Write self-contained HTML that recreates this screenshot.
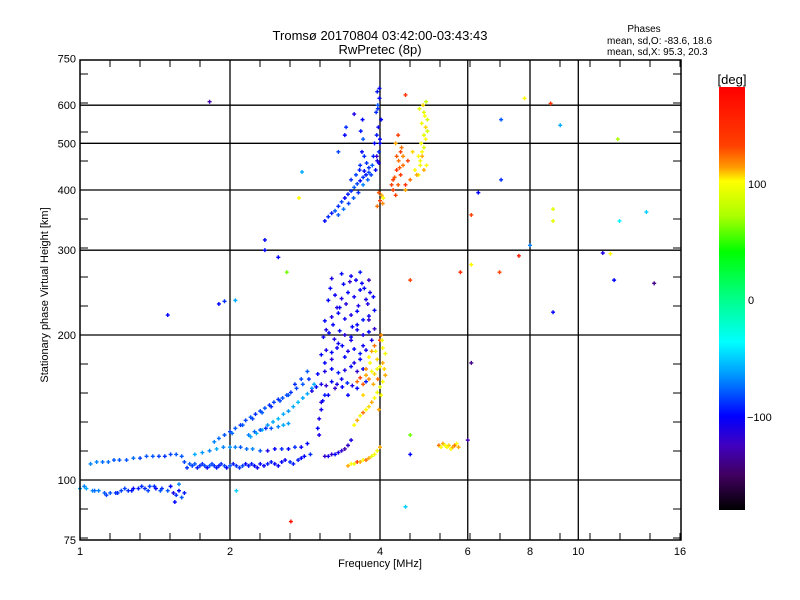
<!DOCTYPE html>
<html><head><meta charset="utf-8"><style>
html,body{margin:0;padding:0;background:#fff}
svg{display:block;font-family:"Liberation Sans",sans-serif}
</style></head><body>
<svg id="chart" width="800" height="600" viewBox="0 0 800 600">
<defs>
<linearGradient id="cb" x1="0" y1="1" x2="0" y2="0">
<stop offset="0" stop-color="#000000"/>
<stop offset="0.0833" stop-color="#400060"/>
<stop offset="0.1528" stop-color="#4000c0"/>
<stop offset="0.2222" stop-color="#0000ff"/>
<stop offset="0.3194" stop-color="#0099ff"/>
<stop offset="0.3972" stop-color="#00ffff"/>
<stop offset="0.5" stop-color="#00ff88"/>
<stop offset="0.6111" stop-color="#00ff00"/>
<stop offset="0.6944" stop-color="#aaff00"/>
<stop offset="0.7778" stop-color="#ffff00"/>
<stop offset="0.8111" stop-color="#ff9900"/>
<stop offset="0.8611" stop-color="#ff4000"/>
<stop offset="1" stop-color="#ff0000"/>
</linearGradient>
</defs>
<text x="380" y="40" font-size="13" text-anchor="middle">Tromsø 20170804 03:42:00-03:43:43</text>
<text x="380" y="54" font-size="13" text-anchor="middle">RwPretec (8p)</text>
<g font-size="10">
<text x="644" y="32" text-anchor="middle">Phases</text>
<text x="607" y="44">mean, sd,O: -83.6, 18.6</text>
<text x="607" y="55">mean, sd,X:  95.3, 20.3</text>
</g>
<g id="grid"></g>
<g id="points"></g>
<rect x="80" y="60" width="601" height="480" fill="none" stroke="#000" stroke-width="1.5"/>
<g id="axes" font-size="11"></g>
<text x="380" y="567" font-size="11" text-anchor="middle">Frequency [MHz]</text>
<text x="48" y="295" font-size="11" text-anchor="middle" transform="rotate(-90 48 295)">Stationary phase Virtual Height [km]</text>
<g>
<rect x="719" y="87" width="26" height="423" fill="url(#cb)"/>
<text x="732" y="84" font-size="13" text-anchor="middle">[deg]</text>
<text x="748" y="188" font-size="11">100</text>
<text x="748" y="304" font-size="11">0</text>
<text x="747" y="421" font-size="11">−100</text>
</g>
</svg>
<script>
const xTicks=[1,2,4,6,8,10,16];
const xGrid=[2,4,6,8,10];
const yTicks=[75,100,200,300,400,500,600,750];
const yGrid=[100,200,300,400,500,600];

const freqMHz=[
1.00,1.03,1.06,1.09,1.12,1.15,1.18,1.21,1.25,1.28,1.31,1.35,1.38,1.42,1.46,1.50,
1.52,1.54,1.56,1.58,1.60,1.62,1.55,1.58,
1.05,1.08,1.11,1.14,1.17,1.20,1.24,1.28,1.32,1.36,1.40,1.44,1.48,1.52,1.56,1.60,
1.62,1.66,1.70,1.74,1.78,1.82,1.86,1.90,1.95,2.00,2.06,2.12,2.18,2.24,2.30,2.38,2.46,2.54,2.64,2.74,2.82,2.90,
1.70,1.76,1.82,1.88,1.94,2.00,2.05,2.10,2.16,2.22,2.30,2.38,2.46,2.54,2.62,2.70,2.78,2.86,
1.86,1.90,1.95,2.00,2.05,2.10,2.15,2.20,2.25,2.30,2.35,2.40,2.45,2.50,2.55,2.60,2.65,2.72,2.80,2.88,
2.20,2.26,2.32,2.38,2.44,2.50,2.56,2.62,2.68,2.74,2.80,2.86,2.92,2.95,
2.18,2.24,2.30,2.36,2.42,2.50,2.56,2.62,
3.10,3.15,3.20,3.25,3.30,3.35,3.40,3.45,3.50,
3.45,3.50,3.55,3.60,3.65,3.70,3.75,3.80,3.85,3.90,3.95,4.00,
2.92,2.98,3.05,3.12,3.20,3.28,3.36,3.44,3.52,3.60,
3.00,3.10,3.20,3.30,3.40,3.50,3.60,3.70,
3.05,3.12,3.20,3.28,3.36,3.45,3.55,3.65,3.75,
3.08,3.16,3.24,3.32,3.40,3.50,3.60,3.70,3.80,3.90,
3.10,3.20,3.30,3.40,3.50,3.60,3.70,3.80,
3.15,3.25,3.35,3.45,3.55,3.65,3.75,
3.20,3.35,3.50,3.65,3.80,
3.00,3.02,3.05,3.07,3.10,3.02,
3.55,3.60,3.65,3.70,3.75,3.80,3.85,3.90,3.95,4.00,4.05,4.10,
3.60,3.65,3.70,3.75,3.80,3.85,3.90,3.95,4.00,4.05,
3.80,3.85,3.90,3.95,4.00,4.02,4.05,4.10,
3.10,3.15,3.20,3.25,3.30,3.35,3.40,3.45,3.50,3.55,3.60,3.65,3.70,3.75,3.80,
3.30,3.38,3.46,3.54,3.62,3.70,3.78,
3.92,3.95,3.98,4.00,3.94,3.97,4.02,3.93,3.96,3.99,3.95,3.98,4.00,3.96,3.99,3.94,
3.65,3.68,3.70,3.66,3.69,3.72,
3.40,3.42,3.30,3.55,
3.95,4.00,4.03,4.06,3.98,4.05,
4.22,4.28,4.32,4.36,4.40,4.30,4.25,4.38,4.45,4.35,
4.78,4.82,4.86,4.90,4.94,4.98,4.85,4.92,4.80,4.95,4.88,4.90,
4.50,4.60,4.70,4.55,4.65,
5.25,5.30,5.35,5.40,5.45,5.50,5.55,5.60,5.65,5.70,5.75,
1.82,1.50,1.90,1.95,2.05,2.35,2.75,2.79,2.50,2.60,11.2,14.2,11.8,6.95,6.1,8.9,8.8,7.8,7.6,9.2,13.7,12.1,8.9,8.9,8.0,12.0,7.0,6.3,7.0,6.1,11.6,2.65,4.5,6.1,6.0,4.6,4.6,2.06,4.5,4.6,5.8,2.35,
3.05,3.15,3.25,3.35,3.45,3.55,3.65,3.75,3.85,3.10,3.20,3.30,3.40,3.50,3.60,3.70,3.80,3.90,3.12,3.22,3.32,3.42,3.52,3.62,3.72,3.82,3.18,3.28,3.38,3.48,3.58,3.68,3.78,3.88,
3.50,3.58,3.64,3.72,3.80,3.86,3.88,3.90,3.84,3.76,
3.70,3.75,3.82,3.88,3.92,3.96,4.02,4.08,3.98,4.04,
4.82,4.86,4.90,4.94,4.98,4.78,4.84,4.90,4.96,4.74,
4.30,4.35,4.40,4.45,4.25,4.50,4.32,4.42,
1.64,1.68,1.72,1.76,1.80,1.84,1.88,1.92,1.97,2.03,2.09,2.15,2.21,2.27,2.34,2.42,2.50,2.58,2.68,2.78,
2.02,2.12,2.22,2.32,2.42,2.52,2.62,2.70,2.78,2.86,
1.02,1.07,1.13,1.19,1.23,1.27,1.33,1.37,1.41,1.45
];
const heightKm=[
96,96,95,95,94,94,94,95,95,96,96,96,97,96,96,95,
97,94,93,95,92,94,90,98,
108,109,109,109,110,110,110,111,111,112,112,112,112,113,113,112,
109,108,108,107,107,107,107,107,107,107,107,107,107,107,108,108,108,109,109,110,112,113,
113,114,115,116,117,117,117,117,116,116,115,115,116,116,116,117,117,119,
120,122,124,126,128,130,133,135,137,139,141,143,145,147,148,150,152,155,158,162,
123,125,127,130,132,134,137,139,142,145,148,151,155,158,
124,126,127,128,128,129,130,131,
112,112,113,113,114,115,116,118,121,
107,108,108,109,109,110,110,111,112,113,115,117,
153,156,158,157,160,158,156,159,157,155,
166,168,170,167,169,172,168,170,
182,186,184,188,190,185,187,183,186,
198,202,196,204,200,198,205,200,203,206,
214,218,222,216,220,224,215,219,
236,242,238,245,240,248,237,
262,268,265,270,260,
128,134,140,146,150,124,
130,133,136,138,140,142,145,148,152,156,160,165,
160,163,158,165,162,168,166,170,172,175,
180,185,190,178,195,200,188,183,
345,352,358,362,370,378,385,392,398,405,412,418,425,430,435,
355,365,375,385,395,410,420,
440,460,480,500,520,540,560,580,600,620,640,455,510,590,650,470,
450,480,510,530,560,470,
520,540,480,575,
370,380,390,385,395,375,
410,425,440,460,480,500,420,445,470,520,
430,450,470,490,510,530,550,570,590,610,600,440,
400,420,440,460,480,
118,117,119,118,117,118,116,117,118,119,117,
610,220,232,235,236,315,385,436,290,270,296,256,260,270,280,223,605,620,292,545,360,345,365,345,307,510,420,395,560,355,295,82,88,175,121,113,124,95,630,260,270,300,
145,150,155,162,150,175,178,160,195,175,178,192,180,195,210,190,215,225,205,210,228,232,208,230,250,245,250,228,255,258,260,256,232,240,
420,430,440,438,445,450,470,500,430,455,
150,170,175,158,185,162,150,170,140,195,
460,480,520,540,560,470,500,580,450,430,
390,410,430,450,400,410,470,490,
106,107,106,108,106,108,106,108,106,108,106,108,108,106,107,109,107,110,108,111,
125,130,134,138,142,146,150,158,162,168,
97,95,93,94,96,95,97,95,97,95
];
const phaseDeg=[
-60,-60,-70,-70,-80,-80,-90,-85,-90,-100,-95,-90,-85,-100,-90,-80,
-100,-110,-90,-100,-80,-95,-100,-70,
-70,-70,-75,-75,-80,-80,-80,-75,-85,-80,-80,-85,-90,-85,-80,-80,
-85,-80,-80,-90,-85,-80,-90,-95,-85,-80,-90,-85,-95,-100,-100,-95,-100,-100,-90,-95,-100,-90,
-60,-65,-70,-60,-70,-65,-70,-80,-75,-70,-80,-110,-100,-90,-100,-90,-100,-100,
-70,-75,-80,-85,-80,-90,-85,-80,-90,-85,-80,-90,-85,-90,-80,-85,-90,-85,-80,-90,
-60,-60,-55,-65,-60,-55,-60,-65,-60,-55,-60,-60,-65,-60,
-70,-75,-80,-90,-80,-70,-60,-65,
-120,-110,-120,-100,-110,-120,-130,-120,-110,
110,100,95,130,110,100,120,110,90,100,95,110,
-110,-100,-110,-120,-100,-110,-100,-90,-110,-100,
-100,-110,-100,-95,-110,-100,-120,-105,
-100,-110,-100,-105,-100,-110,-100,-95,-105,
-105,-100,-110,-100,-115,-100,-105,-110,-100,-120,
-100,-110,-100,-105,-110,-100,-95,-105,
-100,-105,-110,-100,-105,-100,-110,
-110,-100,-105,-95,-120,
-100,-110,-105,-100,-95,-110,
100,110,95,120,100,105,110,100,95,90,100,110,
120,130,125,110,115,100,105,95,100,110,
100,110,120,105,130,115,100,95,
-100,-90,-95,-80,-90,-85,-100,-95,-90,-80,-85,-100,-90,-95,-85,
-80,-75,-85,-80,-90,-70,-80,
-100,-110,-90,-100,-95,-105,-100,-90,-80,-100,-95,-110,-100,-90,-100,-120,
-90,-100,-80,-95,-100,-90,
-100,-90,-85,-110,
120,130,110,100,125,115,
130,125,140,120,130,110,135,125,115,130,
100,95,110,90,100,85,95,100,90,80,105,110,
110,120,100,130,105,
120,100,110,95,100,105,100,110,120,100,110,
-130,-100,-100,-90,-60,-100,100,-60,-100,60,-110,-140,-100,130,100,-100,140,100,160,-60,-50,-40,90,90,-70,70,-90,-100,-80,130,100,170,-50,-140,-130,-100,60,-50,140,130,150,-100,
-110,-100,-120,-105,-100,-110,-100,-95,-110,-100,-115,-105,-100,-110,-100,-105,-120,-100,-110,-100,-105,-115,-100,-110,-100,-105,-100,-110,-100,-120,-105,-100,-110,-100,
-90,-85,-95,-100,-90,-80,-95,-100,-85,-90,
105,115,100,110,95,120,100,105,110,95,
95,100,90,105,85,100,95,90,100,110,
130,125,135,120,130,140,125,120,
-90,-85,-95,-90,-100,-85,-95,-90,-100,-95,-90,-100,-95,-105,-100,-95,-100,-105,-95,-100,
-75,-80,-85,-80,-90,-85,-80,-90,-85,-80,
-70,-75,-85,-90,-85,-95,-90,-85,-90,-80
];

const NS='http://www.w3.org/2000/svg';
const X0=80,X1=681,Y0=540,YTOP=60;
function xScale(f){return X0+150*Math.log2(f);}
function yScale(h){return 480-145*Math.log2(h/100);}
const stops=[[-180,[0,0,0]],[-150,[64,0,96]],[-125,[64,0,192]],[-100,[0,0,255]],[-65,[0,153,255]],[-37,[0,255,255]],[0,[0,255,136]],[40,[0,255,0]],[70,[170,255,0]],[100,[255,255,0]],[112,[255,153,0]],[130,[255,64,0]],[180,[255,0,0]]];
function colorOf(p){
  p=Math.max(-180,Math.min(180,p));
  for(let i=0;i<stops.length-1;i++){
    const a=stops[i],b=stops[i+1];
    if(p<=b[0]){const t=(p-a[0])/(b[0]-a[0]);
      const c=a[1].map((v,k)=>Math.round(v+(b[1][k]-v)*t));
      return 'rgb('+c.join(',')+')';}
  }
  return 'rgb(255,0,0)';
}
function mk(tag,attrs,parent){const e=document.createElementNS(NS,tag);for(const k in attrs)e.setAttribute(k,attrs[k]);parent.appendChild(e);return e;}

const grid=document.getElementById('grid');
xGrid.forEach(f=>{
  const l=mk('line',{x1:xScale(f),x2:xScale(f),y1:YTOP,y2:Y0,stroke:'#000','stroke-width':1.3},grid);
  
  
});
yGrid.forEach(h=>{
  const l=mk('line',{x1:X0,x2:X1,y1:yScale(h),y2:yScale(h),stroke:'#000','stroke-width':1.3},grid);
  
  
});

const axes=document.getElementById('axes');
for(let x=X0+30;x<X1;x+=30){
  mk('line',{x1:x,x2:x,y1:Y0,y2:Y0-7,stroke:'#000'},axes);
  mk('line',{x1:x,x2:x,y1:YTOP,y2:YTOP+7,stroke:'#000'},axes);
}
for(let y=480+29;y<Y0;y+=29){
  mk('line',{x1:X0,x2:X0+8,y1:y,y2:y,stroke:'#000'},axes);
  mk('line',{x1:X1,x2:X1-8,y1:y,y2:y,stroke:'#000'},axes);
}
for(let y=480-29;y>YTOP;y-=29){
  mk('line',{x1:X0,x2:X0+8,y1:y,y2:y,stroke:'#000'},axes);
  mk('line',{x1:X1,x2:X1-8,y1:y,y2:y,stroke:'#000'},axes);
}
xTicks.forEach(f=>{
  const t=mk('text',{x:xScale(f),y:555,'text-anchor':'middle'},axes);
  t.textContent=f;
  
  
});
yTicks.forEach(h=>{
  const t=mk('text',{x:76,y:yScale(h)+4,'text-anchor':'end'},axes);
  t.textContent=h;
  
  
});

const pts=document.getElementById('points');
const n=Math.min(freqMHz.length,heightKm.length,phaseDeg.length);
for(let i=0;i<n;i++){
  const x=xScale(freqMHz[i]),y=yScale(heightKm[i]);
  if(x<X0||x>X1||y<YTOP||y>Y0)continue;
  const p=mk('path',{d:'M'+(x-2)+' '+y+'h4M'+x+' '+(y-2)+'v4',stroke:colorOf(phaseDeg[i]),'stroke-width':1.4,fill:'none'},pts);
  
  
}
</script>
</body></html>
